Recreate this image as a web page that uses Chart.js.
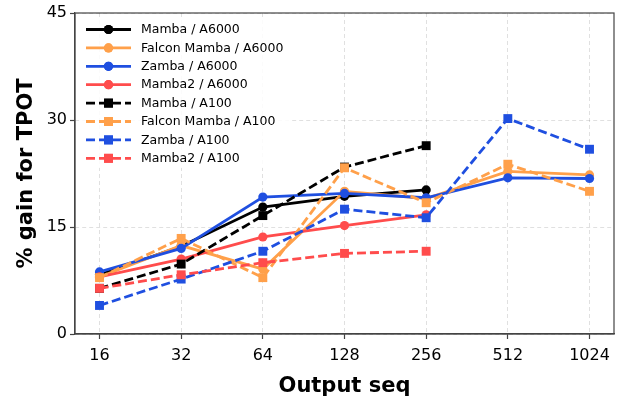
<!DOCTYPE html>
<html lang="en">
  <head>
    <meta charset="UTF-8" />
    <title>TPOT gain</title>
    <style>
      body { margin: 0; padding: 0; background: #ffffff; }
      #wrap { width: 621px; height: 398px; }
    </style>
  </head>
  <body>
    <div id="wrap"><canvas id="gainChart" width="621" height="398"></canvas></div>

    <script src="https://cdn.jsdelivr.net/npm/chart.js"></script>
    <script>
      const outputSeq = ["16", "32", "64", "128", "256", "512", "1024"];
      const yTicks = [0, 15, 30, 45];

      // A6000 runs (solid, circles)
      const mambaA6000 = [8.3, 12.3, 17.8, 19.3, 20.2];
      const falconA6000 = [8.0, 12.4, 9.1, 20.0, 19.0, 22.8, 22.3];
      const zambaA6000 = [8.7, 12.0, 19.2, 19.7, 19.1, 21.9, 21.8];
      const mamba2A6000 = [8.0, 10.5, 13.6, 15.2, 16.7];
      // A100 runs (dashed, squares)
      const mambaA100 = [6.4, 9.8, 16.6, 23.4, 26.4];
      const falconA100 = [7.9, 13.4, 7.9, 23.3, 18.4, 23.8, 20.0];
      const zambaA100 = [4.0, 7.7, 11.6, 17.5, 16.3, 30.2, 25.9];
      const mamba2A100 = [6.4, 8.3, 10.0, 11.3, 11.6];

      const BLACK = "#000000";
      const ORANGE = "#ffa04a";
      const BLUE = "#1f4fe0";
      const RED = "#ff4c4c";

      const series = [
        ["Mamba / A6000", mambaA6000, BLACK, false],
        ["Falcon Mamba / A6000", falconA6000, ORANGE, false],
        ["Zamba / A6000", zambaA6000, BLUE, false],
        ["Mamba2 / A6000", mamba2A6000, RED, false],
        ["Mamba / A100", mambaA100, BLACK, true],
        ["Falcon Mamba / A100", falconA100, ORANGE, true],
        ["Zamba / A100", zambaA100, BLUE, true],
        ["Mamba2 / A100", mamba2A100, RED, true],
      ];

      const datasets = series.map(([label, vals, color, dashed], i) => ({
        label: label,
        data: vals.map((v, j) => ({ x: j, y: v })),
        borderColor: color,
        backgroundColor: color,
        borderWidth: 2.8,
        borderDash: dashed ? [9, 4] : [],
        pointStyle: dashed ? "rect" : "circle",
        pointRadius: dashed ? 6.3 : 4.6,
        pointBorderWidth: 0,
        pointBackgroundColor: color,
        tension: 0,
        order: series.length - i,
      }));

      const tickFont = { family: "DejaVu Sans", size: 16 };
      const titleFont = { family: "DejaVu Sans", size: 21, weight: "bold" };

      // full frame (spines) + legend inside plot
      const framePlugin = {
        id: "frame",
        afterDraw(chart) {
          const { ctx, chartArea: a } = chart;
          ctx.save();
          ctx.strokeStyle = "#444";
          ctx.lineWidth = 1.2;
          ctx.setLineDash([]);
          ctx.strokeRect(a.left, a.top, a.right - a.left, a.bottom - a.top);

          // legend
          ctx.fillStyle = "rgba(255,255,255,0.85)";
          ctx.fillRect(80, 18, 212, 150);
          ctx.font = "12.5px 'DejaVu Sans'";
          ctx.textBaseline = "middle";
          chart.data.datasets.forEach((ds, i) => {
            const y = 29.5 + i * 18.4;
            ctx.strokeStyle = ds.borderColor;
            ctx.lineWidth = ds.borderWidth;
            ctx.setLineDash(ds.borderDash);
            ctx.beginPath();
            ctx.moveTo(86, y);
            ctx.lineTo(131, y);
            ctx.stroke();
            ctx.setLineDash([]);
            ctx.fillStyle = ds.borderColor;
            Chart.helpers.drawPoint(ctx, {
              pointStyle: ds.pointStyle,
              radius: ds.pointRadius,
              borderWidth: 0,
              rotation: 0,
            }, 108.5, y);
            ctx.fill();
            ctx.fillStyle = "#000";
            ctx.fillText(ds.label, 141, y + 0.5);
          });
          ctx.restore();
        },
      };

      new Chart(document.getElementById("gainChart"), {
        type: "line",
        data: { datasets: datasets },
        options: {
          responsive: false,
          animation: false,
          layout: { padding: { top: 13, right: 7, left: 0, bottom: 0 } },
          plugins: { legend: { display: false }, tooltip: { enabled: false } },
          scales: {
            x: {
              type: "linear",
              min: -0.3,
              max: 6.3,
              afterBuildTicks: (scale) => {
                scale.ticks = outputSeq.map((_, i) => ({ value: i }));
              },
              afterFit: (scale) => { scale.height = 64; },
              ticks: {
                callback: (v) => outputSeq[v],
                font: tickFont,
                color: "#000",
                padding: 7,
                maxRotation: 0,
              },
              grid: {
                color: "rgba(0,0,0,0.12)",
                tickBorderDash: [],
                tickColor: "#444",
                tickLength: 5,
                tickWidth: 1.2,
              },
              border: { display: true, color: "#444", width: 1.2, dash: [4, 3] },
              title: {
                display: true,
                text: "Output seq",
                font: titleFont,
                color: "#000",
                padding: { top: 0, bottom: -1 },
              },
            },
            y: {
              min: 0,
              max: 45,
              afterBuildTicks: (scale) => {
                scale.ticks = yTicks.map((v) => ({ value: v }));
              },
              afterFit: (scale) => { scale.width = 75; },
              ticks: { font: tickFont, color: "#000", padding: 3 },
              grid: {
                color: "rgba(0,0,0,0.12)",
                tickBorderDash: [],
                tickColor: "#444",
                tickLength: 5,
                tickWidth: 1.2,
              },
              border: { display: true, color: "#444", width: 1.2, dash: [4, 3] },
              title: {
                display: true,
                text: "% gain for TPOT",
                font: titleFont,
                color: "#000",
                padding: { top: 14, bottom: 0 },
              },
            },
          },
        },
        plugins: [framePlugin],
      });
    </script>
  </body>
</html>
